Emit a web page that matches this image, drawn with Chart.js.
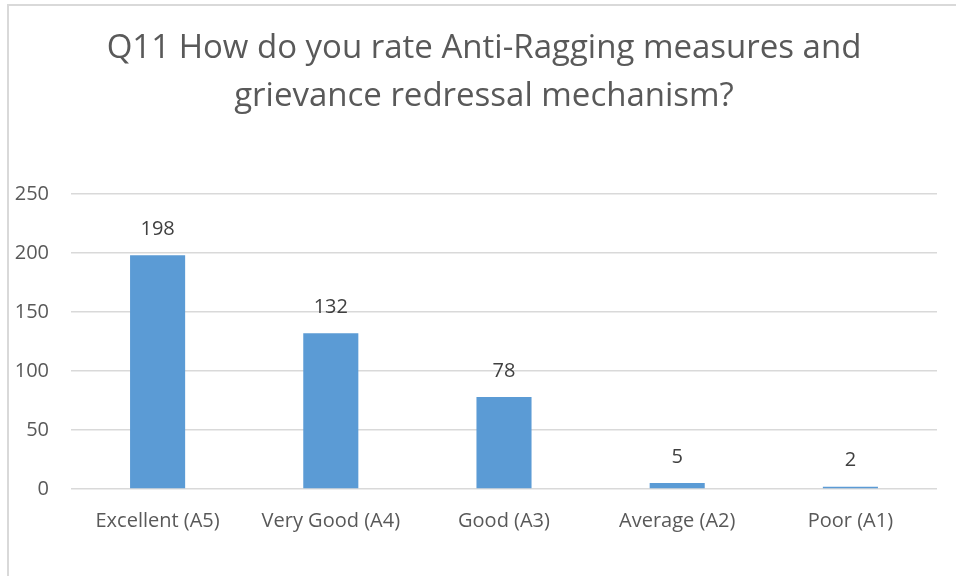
<!DOCTYPE html>
<html>
<head>
<meta charset="utf-8">
<script src="https://cdn.jsdelivr.net/npm/chart.js@4/dist/chart.umd.min.js"></script>
<style>
  html, body { margin: 0; padding: 0; background: #fff; }
  #wrap { position: relative; width: 956px; height: 576px; overflow: hidden; }
  #frame { position: absolute; left: 7px; top: 4px; width: 1000px; height: 1000px;
           border-left: 2px solid #d9d9d9; border-top: 2px solid #d9d9d9; box-sizing: border-box; }
  canvas { position: absolute; left: 0; top: 0; }
</style>
</head>
<body>
<div id="wrap">
  <div id="frame"></div>
  <canvas id="c" width="956" height="576"></canvas>
</div>
<script>
const categories = ["Excellent (A5)", "Very Good (A4)", "Good (A3)", "Average (A2)", "Poor (A1)"];
const responses = [198, 132, 78, 5, 2];
const titleLines = ["Q11 How do you rate Anti-Ragging measures and", "grievance redressal mechanism?"];

const FONT = "'Open Sans', 'Noto Sans', sans-serif";

const valueLabels = {
  id: 'valueLabels',
  afterDatasetsDraw(chart) {
    const ctx = chart.ctx;
    const meta = chart.getDatasetMeta(0);
    ctx.save();
    ctx.font = "20px " + FONT;
    ctx.fillStyle = "#404040";
    ctx.textAlign = "center";
    ctx.textBaseline = "middle";
    meta.data.forEach((bar, i) => {
      ctx.fillText(String(chart.data.datasets[0].data[i]), bar.x, bar.y - 26);
    });
    ctx.restore();
  }
};

const chartTitle = {
  id: 'chartTitle',
  afterDraw(chart) {
    const ctx = chart.ctx;
    ctx.save();
    ctx.font = "33px " + FONT;
    ctx.fillStyle = "#595959";
    ctx.textAlign = "center";
    ctx.textBaseline = "middle";
    titleLines.forEach((line, i) => ctx.fillText(line, 484, 49 + i * 48));
    ctx.restore();
  }
};

new Chart(document.getElementById('c'), {
  type: 'bar',
  data: {
    labels: categories,
    datasets: [{
      data: responses,
      backgroundColor: '#5b9bd5',
      borderWidth: 0,
      categoryPercentage: 1.0,
      barPercentage: 0.318
    }]
  },
  plugins: [valueLabels, chartTitle],
  options: {
    responsive: false,
    animation: false,
    devicePixelRatio: 1,
    layout: { padding: { left: 0, right: 19, top: 194, bottom: 0 } },
    plugins: {
      legend: { display: false },
      tooltip: { enabled: false },
      title: { display: false }
    },
    scales: {
      x: {
        grid: { display: false },
        border: { display: false },
        ticks: { color: '#595959', font: { family: FONT, size: 20 }, padding: 12, maxRotation: 0 },
        afterFit(s) { s.height = 87; }
      },
      y: {
        min: 0, max: 250,
        ticks: { stepSize: 50, color: '#595959', font: { family: FONT, size: 20 }, padding: 22 },
        grid: { color: '#d9d9d9', lineWidth: 1.5, drawTicks: false },
        border: { display: false },
        afterFit(s) { s.width = 71; }
      }
    }
  }
});
</script>
</body>
</html>
